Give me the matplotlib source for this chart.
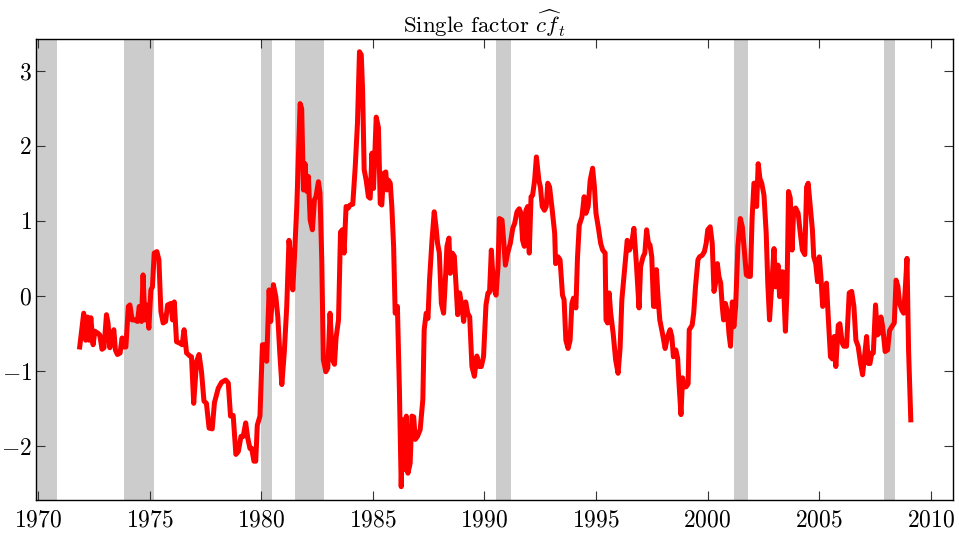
import matplotlib
matplotlib.use("Agg")
import matplotlib.pyplot as plt
import numpy as np

plt.rcParams['font.family'] = 'cmr10'
plt.rcParams['mathtext.fontset'] = 'cm'
plt.rcParams['axes.formatter.use_mathtext'] = True

# recession periods (start, end) in decimal years
rec_start = [1969.92, 1973.83, 1980.00, 1981.50, 1990.50, 2001.17, 2007.92]
rec_end = [1970.83, 1975.17, 1980.50, 1982.83, 1991.17, 2001.83, 2008.42]

# single factor series (decimal year, value)
years = [
    1971.86, 1972.04, 1972.13, 1972.21, 1972.28, 1972.36, 1972.46, 1972.54, 1972.69, 1972.76,
    1972.86, 1972.95, 1973.06, 1973.13, 1973.21, 1973.29, 1973.39, 1973.46, 1973.55, 1973.67,
    1973.76, 1973.85, 1973.93, 1974.04, 1974.11, 1974.21, 1974.33, 1974.45, 1974.53, 1974.63,
    1974.70, 1974.78, 1974.86, 1974.96, 1975.05, 1975.12, 1975.20, 1975.32, 1975.41, 1975.50,
    1975.60, 1975.71, 1975.80, 1975.95, 1976.02, 1976.10, 1976.20, 1976.35, 1976.45, 1976.54,
    1976.65, 1976.80, 1976.87, 1976.97, 1977.10, 1977.21, 1977.32, 1977.43, 1977.54, 1977.66,
    1977.80, 1977.90, 1978.07, 1978.22, 1978.40, 1978.52, 1978.62, 1978.74, 1978.86, 1978.97,
    1979.09, 1979.19, 1979.30, 1979.39, 1979.49, 1979.57, 1979.67, 1979.75, 1979.82, 1979.94,
    1980.05, 1980.14, 1980.24, 1980.35, 1980.42, 1980.54, 1980.65, 1980.74, 1980.83, 1980.92,
    1981.03, 1981.14, 1981.24, 1981.33, 1981.41, 1981.48, 1981.59, 1981.74, 1981.81, 1981.89,
    1981.96, 1982.04, 1982.11, 1982.19, 1982.29, 1982.38, 1982.45, 1982.56, 1982.63, 1982.71,
    1982.78, 1982.89, 1982.98, 1983.08, 1983.19, 1983.28, 1983.35, 1983.46, 1983.55, 1983.63,
    1983.71, 1983.80, 1983.90, 1983.98, 1984.10, 1984.21, 1984.31, 1984.40, 1984.48, 1984.54,
    1984.61, 1984.70, 1984.80, 1984.88, 1984.96, 1985.03, 1985.15, 1985.25, 1985.33, 1985.40,
    1985.48, 1985.58, 1985.63, 1985.70, 1985.78, 1985.85, 1985.93, 1986.00, 1986.10, 1986.19,
    1986.27, 1986.35, 1986.42, 1986.50, 1986.57, 1986.67, 1986.75, 1986.83, 1986.90, 1987.00,
    1987.12, 1987.24, 1987.30, 1987.39, 1987.47, 1987.54, 1987.65, 1987.75, 1987.83, 1987.90,
    1987.98, 1988.07, 1988.17, 1988.25, 1988.32, 1988.41, 1988.47, 1988.56, 1988.65, 1988.74,
    1988.80, 1988.89, 1988.99, 1989.07, 1989.16, 1989.25, 1989.34, 1989.44, 1989.55, 1989.66,
    1989.77, 1989.86, 1989.96, 1990.07, 1990.16, 1990.23, 1990.31, 1990.41, 1990.52, 1990.61,
    1990.67, 1990.79, 1990.86, 1990.94, 1991.04, 1991.16, 1991.27, 1991.36, 1991.46, 1991.56,
    1991.64, 1991.71, 1991.79, 1991.86, 1991.94, 1992.01, 1992.09, 1992.16, 1992.25, 1992.33,
    1992.44, 1992.51, 1992.59, 1992.69, 1992.77, 1992.84, 1992.92, 1993.04, 1993.15, 1993.19,
    1993.30, 1993.39, 1993.50, 1993.57, 1993.65, 1993.75, 1993.84, 1993.92, 1993.99, 1994.10,
    1994.17, 1994.25, 1994.37, 1994.47, 1994.55, 1994.65, 1994.74, 1994.85, 1994.93, 1995.00,
    1995.10, 1995.21, 1995.30, 1995.41, 1995.45, 1995.52, 1995.59, 1995.66, 1995.77, 1995.88,
    1995.99, 1996.08, 1996.16, 1996.28, 1996.40, 1996.50, 1996.59, 1996.70, 1996.81, 1996.93,
    1997.00, 1997.11, 1997.19, 1997.27, 1997.35, 1997.42, 1997.50, 1997.58, 1997.65, 1997.71,
    1997.78, 1997.86, 1997.98, 1998.10, 1998.21, 1998.32, 1998.40, 1998.47, 1998.58, 1998.66,
    1998.73, 1998.81, 1998.88, 1998.96, 1999.04, 1999.13, 1999.18, 1999.31, 1999.38, 1999.46,
    1999.57, 1999.64, 1999.76, 1999.86, 1999.94, 2000.01, 2000.12, 2000.21, 2000.29, 2000.36,
    2000.44, 2000.51, 2000.59, 2000.66, 2000.72, 2000.80, 2000.89, 2000.96, 2001.03, 2001.11,
    2001.18, 2001.26, 2001.36, 2001.47, 2001.56, 2001.66, 2001.74, 2001.84, 2001.92, 2002.00,
    2002.08, 2002.15, 2002.20, 2002.27, 2002.35, 2002.43, 2002.53, 2002.63, 2002.70, 2002.78,
    2002.89, 2002.98, 2003.05, 2003.16, 2003.23, 2003.31, 2003.38, 2003.49, 2003.56, 2003.63,
    2003.71, 2003.79, 2003.86, 2003.95, 2004.06, 2004.16, 2004.25, 2004.36, 2004.44, 2004.51,
    2004.61, 2004.70, 2004.76, 2004.85, 2004.93, 2005.01, 2005.08, 2005.16, 2005.26, 2005.33,
    2005.41, 2005.51, 2005.60, 2005.68, 2005.75, 2005.86, 2005.93, 2006.04, 2006.11, 2006.23,
    2006.35, 2006.46, 2006.56, 2006.65, 2006.75, 2006.86, 2006.95, 2007.05, 2007.13, 2007.21,
    2007.28, 2007.36, 2007.43, 2007.53, 2007.61, 2007.68, 2007.77, 2007.85, 2007.96, 2008.07,
    2008.16, 2008.26, 2008.37, 2008.45, 2008.53, 2008.61, 2008.71, 2008.79, 2008.86, 2008.94,
    2009.01, 2009.11,
]
cf = [
    -0.68, -0.23, -0.59, -0.28, -0.59, -0.29, -0.65, -0.47, -0.50, -0.52,
    -0.71, -0.69, -0.25, -0.36, -0.69, -0.54, -0.45, -0.72, -0.78, -0.76,
    -0.56, -0.68, -0.68, -0.14, -0.12, -0.32, -0.32, -0.34, -0.14, -0.34,
    0.28, -0.32, -0.12, -0.43, 0.08, 0.12, 0.57, 0.59, 0.48, -0.21,
    -0.36, -0.34, -0.12, -0.10, -0.32, -0.08, -0.61, -0.63, -0.65, -0.45,
    -0.76, -0.80, -0.81, -1.43, -0.87, -0.78, -1.01, -1.40, -1.43, -1.76,
    -1.77, -1.42, -1.23, -1.15, -1.12, -1.16, -1.60, -1.59, -2.11, -2.07,
    -1.87, -1.87, -1.69, -1.89, -2.03, -2.03, -2.20, -2.20, -1.72, -1.60,
    -0.65, -0.65, -0.87, 0.08, -0.34, 0.15, -0.01, -0.28, -0.77, -1.18,
    -0.75, -0.14, 0.74, 0.48, 0.08, 0.48, 1.19, 2.56, 2.49, 1.41,
    1.76, 1.39, 1.59, 1.01, 0.88, 1.28, 1.32, 1.52, 1.37, 0.48,
    -0.85, -1.01, -0.96, -0.23, -0.85, -0.91, -0.56, -0.32, 0.85, 0.88,
    0.57, 1.19, 1.17, 1.21, 1.22, 1.72, 2.30, 3.25, 3.21, 2.74,
    1.68, 1.54, 1.32, 1.30, 1.90, 1.43, 2.38, 2.24, 1.23, 1.21,
    1.63, 1.65, 1.41, 1.54, 1.50, 1.19, 0.66, -0.23, -0.14, -1.25,
    -2.54, -1.65, -2.31, -1.60, -2.36, -2.23, -1.60, -1.61, -1.91, -1.87,
    -1.78, -1.38, -0.45, -0.23, -0.30, 0.21, 0.74, 1.12, 0.92, 0.70,
    0.57, -0.10, -0.23, 0.21, 0.66, 0.77, 0.30, 0.57, 0.53, 0.08,
    -0.25, 0.04, -0.14, -0.34, -0.08, -0.23, -0.28, -0.94, -1.07, -0.80,
    -0.94, -0.94, -0.81, -0.12, 0.04, 0.05, 0.61, 0.12, 0.01, 0.39,
    1.03, 1.01, 0.74, 0.41, 0.57, 0.70, 0.90, 0.97, 1.12, 1.16,
    1.10, 0.74, 0.66, 1.14, 1.19, 0.57, 1.32, 1.34, 1.54, 1.85,
    1.54, 1.45, 1.19, 1.14, 1.19, 1.50, 1.45, 1.14, 0.83, 0.43,
    0.52, 0.48, 0.01, -0.05, -0.59, -0.70, -0.59, -0.10, -0.03, -0.16,
    0.50, 0.94, 1.05, 1.32, 1.10, 1.19, 1.54, 1.70, 1.45, 1.10,
    0.92, 0.70, 0.61, 0.57, -0.32, -0.36, 0.04, -0.23, -0.50, -0.85,
    -1.03, -0.70, -0.05, 0.35, 0.74, 0.61, 0.68, 0.90, 0.43, -0.16,
    0.39, 0.52, 0.57, 0.88, 0.70, 0.68, 0.52, -0.14, -0.14, 0.35,
    -0.01, -0.32, -0.50, -0.70, -0.54, -0.45, -0.54, -0.81, -0.72, -0.83,
    -1.21, -1.58, -1.09, -1.21, -1.21, -1.17, -0.45, -0.39, -0.23, 0.12,
    0.48, 0.52, 0.54, 0.59, 0.70, 0.88, 0.92, 0.70, 0.06, 0.17,
    0.43, 0.26, 0.17, -0.14, -0.32, -0.10, -0.21, -0.50, -0.67, -0.08,
    -0.41, -0.14, 0.66, 1.03, 0.92, 0.57, 0.28, 0.26, 0.26, 1.05,
    1.50, 1.50, 1.19, 1.76, 1.56, 1.50, 1.34, 0.83, 0.17, -0.32,
    0.21, 0.63, 0.12, 0.41, -0.01, 0.32, 0.32, -0.47, 0.04, 1.39,
    1.30, 0.61, 1.14, 1.17, 1.10, 0.83, 0.61, 0.55, 1.45, 1.50,
    1.17, 0.88, 0.52, 0.43, 0.19, 0.52, 0.26, -0.14, -0.10, 0.17,
    -0.28, -0.81, -0.84, -0.54, -0.94, -0.39, -0.37, -0.63, -0.67, -0.67,
    0.04, 0.06, -0.14, -0.59, -0.67, -0.90, -1.05, -0.76, -0.54, -0.90,
    -0.90, -0.76, -0.76, -0.12, -0.52, -0.50, -0.28, -0.41, -0.74, -0.72,
    -0.46, -0.41, -0.36, 0.21, 0.13, -0.10, -0.19, -0.23, 0.08, 0.50,
    -0.72, -1.65,
]

fig = plt.figure(figsize=(9.59, 5.34), dpi=100)
ax = fig.add_axes([0.0375, 0.0646, 0.9562, 0.8624])

for s, e in zip(rec_start, rec_end):
    ax.axvspan(s, e, color='#cccccc', lw=0, zorder=1)

ax.plot(years, cf, color='#ff0000', lw=3.6, zorder=3)

ax.set_xlim(1969.9, 2011.0)
ax.set_ylim(-2.71, 3.42)
ax.set_xticks(np.arange(1970, 2011, 5))
ax.set_yticks(np.arange(-2, 4, 1))
ax.tick_params(direction='in', top=True, right=True, length=6.5, width=0.8,
               labelsize=17, color='#333333')
ax.tick_params(axis='x', pad=7)
ax.tick_params(axis='y', pad=3)
for sp in ax.spines.values():
    sp.set_linewidth(1.0)
    sp.set_zorder(4)

ax.set_title(r'Single factor $\widehat{cf}_t$', fontsize=16.5, pad=4, x=0.489)

fig.savefig('out.png', dpi=100)
